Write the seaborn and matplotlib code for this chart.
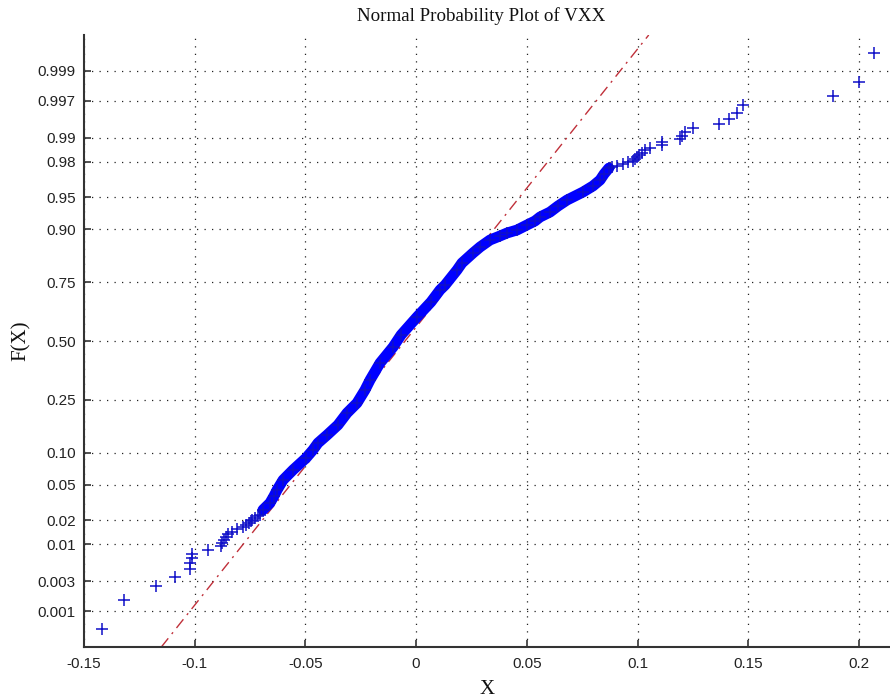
import numpy as np
import pandas as pd
import matplotlib
matplotlib.use("Agg")
import matplotlib.pyplot as plt
import seaborn as sns
from statistics import NormalDist

# ---------------- data ----------------
N_OBS = 1000  # number of daily returns in the sample

# smallest observations, ascending (plotting position (i-0.5)/N)
low_tail_x = [-0.1417, -0.1319, -0.1175, -0.1091, -0.1021, -0.1019, -0.1014,
              -0.1012, -0.0940, -0.0879, -0.0875, -0.0868, -0.0859, -0.0850,
              -0.0832, -0.0809, -0.0782, -0.0768, -0.0755, -0.0746, -0.0741,
              -0.0728, -0.0714, -0.0705]

# largest observations, descending (plotting position 1-(j-0.5)/N)
high_tail_x = [0.2068, 0.2000, 0.1884, 0.1475, 0.1448, 0.1415, 0.1369,
               0.1252, 0.1214, 0.1200, 0.1192, 0.1109, 0.1109, 0.1056,
               0.1034, 0.1019, 0.1007, 0.0996, 0.0989, 0.0981, 0.0957,
               0.0936, 0.0907, 0.0885]

# dense body of the distribution: empirical F(X) and X
body_F = [0.0266, 0.0319, 0.0380, 0.0441, 0.0558, 0.0700, 0.0903, 0.1062,
          0.1216, 0.1410, 0.1683, 0.2050, 0.2389, 0.2874, 0.3278, 0.4005,
          0.4725, 0.5275, 0.6083, 0.6722, 0.7204, 0.7392, 0.7918, 0.8140,
          0.8431, 0.8590, 0.8762, 0.8853, 0.8918, 0.8980, 0.9079, 0.9152,
          0.9221, 0.9300, 0.9388, 0.9467, 0.9559, 0.9620, 0.9673, 0.9720,
          0.9761]
body_x = [-0.0692, -0.0660, -0.0642, -0.0628, -0.0601, -0.0556, -0.0497,
          -0.0466, -0.0443, -0.0402, -0.0353, -0.0312, -0.0267, -0.0231,
          -0.0208, -0.0163, -0.0104, -0.0068, 0.0004, 0.0067, 0.0108,
          0.0131, 0.0185, 0.0207, 0.0257, 0.0289, 0.0334, 0.0379, 0.0411,
          0.0456, 0.0501, 0.0537, 0.0560, 0.0605, 0.0641, 0.0682, 0.0754,
          0.0799, 0.0831, 0.0849, 0.0871]

# reference line through the sample quartiles
line_q25 = -0.0262
line_q75 = 0.0162

xticks = [-0.15, -0.1, -0.05, 0, 0.05, 0.1, 0.15, 0.2]
xtick_labels = ["-0.15", "-0.1", "-0.05", "0", "0.05", "0.1", "0.15", "0.2"]
yticks = [0.001, 0.003, 0.01, 0.02, 0.05, 0.10, 0.25, 0.50, 0.75, 0.90,
          0.95, 0.98, 0.99, 0.997, 0.999]
ytick_labels = ["0.001", "0.003", "0.01", "0.02", "0.05", "0.10", "0.25",
                "0.50", "0.75", "0.90", "0.95", "0.98", "0.99", "0.997",
                "0.999"]

# ---------------- normal probability scale ----------------
nd = NormalDist()
_ppf = np.vectorize(nd.inv_cdf, otypes=[float])
_cdf = np.vectorize(nd.cdf, otypes=[float])


def fwd(p):
    p = np.clip(np.asarray(p, dtype=float), 1e-12, 1 - 1e-12)
    return _ppf(p) if p.size else p


def inv(z):
    z = np.asarray(z, dtype=float)
    return _cdf(z) if z.size else z


low_F = [(i + 0.5) / N_OBS for i in range(len(low_tail_x))]
high_F = [1 - (j + 0.5) / N_OBS for j in range(len(high_tail_x))]

pts = pd.DataFrame({
    "X": low_tail_x + body_x + high_tail_x[::-1],
    "F": low_F + body_F + high_F[::-1],
})
body = pd.DataFrame({"X": body_x, "F": body_F})

Z_LIM = 3.502
ylim = (nd.cdf(-Z_LIM), nd.cdf(Z_LIM))
mu = (line_q25 + line_q75) / 2
sigma = (line_q75 - line_q25) / (2 * nd.inv_cdf(0.75))
ref = pd.DataFrame({
    "X": [mu + sigma * nd.inv_cdf(ylim[0]), mu + sigma * nd.inv_cdf(ylim[1])],
    "F": list(ylim),
})

# ---------------- figure ----------------
sns.set_theme(style="white")
plt.rcParams["font.family"] = ["Liberation Sans", "DejaVu Sans"]

fig = plt.figure(figsize=(8.9, 7.0), dpi=100)
ax = fig.add_axes([84 / 890, 1 - 647 / 700, 806 / 890, 612 / 700])
ax.set_yscale("function", functions=(fwd, inv))

blue = "#0000ff"
sns.lineplot(data=ref, x="X", y="F", ax=ax, color="#c0303a", lw=1.0,
             linestyle=(0, (8, 4, 1.5, 4)), sort=False, estimator=None,
             zorder=2)
sns.lineplot(data=body, x="X", y="F", ax=ax, color=blue, lw=7.8,
             sort=False, estimator=None, zorder=3)
sns.scatterplot(data=pts, x="X", y="F", ax=ax, marker="+", s=80,
                color="#1010c8", linewidth=1.1, zorder=4)

ax.set_xlim(-0.15, -0.15 + 806 / 2214)
ax.set_ylim(*ylim)
ax.set_xticks(xticks)
ax.set_xticklabels(xtick_labels)
ax.set_yticks(yticks)
ax.set_yticklabels(ytick_labels)
ax.minorticks_off()

ax.grid(True, color="#222222", linestyle=(0, (1, 5)), linewidth=0.9)
ax.set_axisbelow(True)

for s in ["top", "right"]:
    ax.spines[s].set_visible(False)
for s in ["left", "bottom"]:
    ax.spines[s].set_color("#333333")
    ax.spines[s].set_linewidth(1.5)

ax.tick_params(axis="both", direction="in", length=5, width=1.2,
               color="#333333", labelsize=11, labelcolor="#222222",
               left=True, bottom=True)
ax.tick_params(axis="y", pad=6)
ax.tick_params(axis="x", pad=7)

ax.set_title("Normal Probability Plot of VXX", family="Liberation Serif",
             fontsize=13.7, color="#111111", x=(481 - 84) / 806, pad=10)
ax.set_xlabel("X", family="Liberation Serif", fontsize=15, color="#111111",
              labelpad=7)
ax.set_ylabel("F(X)", family="Liberation Serif", fontsize=15,
              color="#111111", labelpad=5)

fig.savefig("out.png", dpi=100)
